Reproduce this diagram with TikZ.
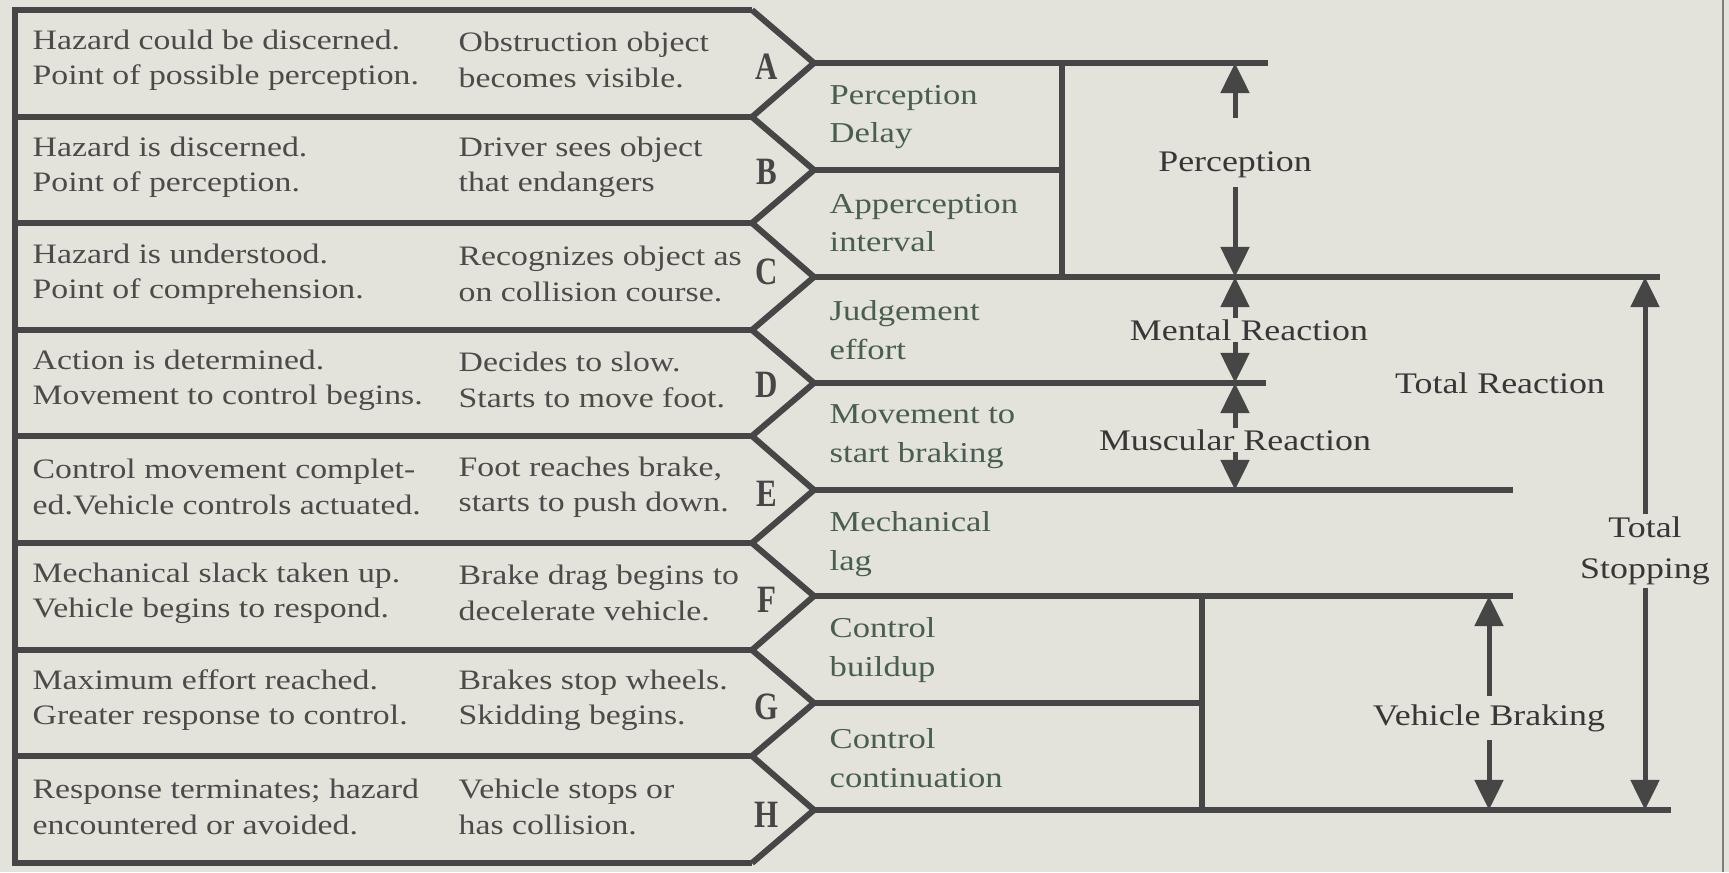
\documentclass[tikz,border=0pt]{standalone}
\usepackage{fontspec}
\setmainfont{Liberation Serif}[FakeStretch=1.2]
\newfontfamily\markfamily{Liberation Serif}[FakeStretch=0.8]
\usetikzlibrary{arrows.meta}

\definecolor{paper}{RGB}{227,226,219}
\definecolor{ink}{RGB}{70,70,70}
\definecolor{stategray}{RGB}{78,74,74}
\definecolor{phasegreen}{RGB}{72,94,80}
\definecolor{spangray}{RGB}{55,55,55}

\newcommand{\rowfont}{\fontsize{8}{10}\selectfont}
\newcommand{\phasefont}{\fontsize{8.2}{11}\selectfont}
\newcommand{\spanfont}{\fontsize{8.5}{11.5}\selectfont}
\newcommand{\markfont}{\markfamily\fontsize{11}{12}\selectfont\bfseries}

\tikzset{
  rowline/.style={line width=0.06cm, draw=ink},
  tieline/.style={line width=0.06cm, draw=ink},
  spanarrow/.style={line width=0.05cm, draw=ink, -{Triangle[width=0.28cm,length=0.3cm]}},
  statetext/.style={anchor=west, align=left, inner sep=0pt, text=stategray, font=\rowfont},
  phasetext/.style={anchor=west, align=left, inner sep=0pt, text=phasegreen, font=\phasefont},
  spantext/.style={align=center, inner sep=0.08cm, text=spangray, font=\spanfont},
  marktext/.style={inner sep=0pt, text=ink, font=\markfont}
}

\begin{document}
\begin{tikzpicture}[x=0.01cm, y=-0.01cm]
	\fill[paper] (0,0) rectangle (1729,872);
	\useasboundingbox (0,0) rectangle (1729,872);
	\draw[ink!70, line width=0.02cm] (1723,0) -- (1723,872);

	% event points
	\coordinate (tipA) at (814,63);
	\coordinate (tipB) at (814,170);
	\coordinate (tipC) at (814,277);
	\coordinate (tipD) at (814,383);
	\coordinate (tipE) at (814,490);
	\coordinate (tipF) at (814,596);
	\coordinate (tipG) at (814,703);
	\coordinate (tipH) at (814,810);

	% row boxes
	\draw[rowline] (752,10) -- (15,10) -- (15,863) -- (752,863);
	\draw[rowline] (15,117) -- (752,117);
	\draw[rowline] (15,223) -- (752,223);
	\draw[rowline] (15,330) -- (752,330);
	\draw[rowline] (15,436) -- (752,436);
	\draw[rowline] (15,543) -- (752,543);
	\draw[rowline] (15,650) -- (752,650);
	\draw[rowline] (15,756) -- (752,756);
	\draw[rowline] (752,10) -- (tipA) -- (752,117) -- (tipB) -- (752,223) -- (tipC) -- (752,330) -- (tipD) -- (752,436) -- (tipE) -- (752,543) -- (tipF) -- (752,650) -- (tipG) -- (752,756) -- (tipH) -- (752,863);

	\node[statetext] (stateA) at (32,60) {Hazard could be discerned.\\Point of possible perception.};
	\node[statetext] (eventA) at (458,60) {Obstruction object\\becomes visible.};
	\node[statetext] (stateB) at (32,167) {Hazard is discerned.\\Point of perception.};
	\node[statetext] (eventB) at (458,167) {Driver sees object\\that endangers};
	\node[statetext] (stateC) at (32,274) {Hazard is understood.\\Point of comprehension.};
	\node[statetext] (eventC) at (458,274) {Recognizes object as\\on collision course.};
	\node[statetext] (stateD) at (32,380) {Action is determined.\\Movement to control begins.};
	\node[statetext] (eventD) at (458,380) {Decides to slow.\\Starts to move foot.};
	\node[statetext] (stateE) at (32,487) {Control movement complet-\\ed.Vehicle controls actuated.};
	\node[statetext] (eventE) at (458,487) {Foot reaches brake,\\starts to push down.};
	\node[statetext] (stateF) at (32,593) {Mechanical slack taken up.\\Vehicle begins to respond.};
	\node[statetext] (eventF) at (458,593) {Brake drag begins to\\decelerate vehicle.};
	\node[statetext] (stateG) at (32,700) {Maximum effort reached.\\Greater response to control.};
	\node[statetext] (eventG) at (458,700) {Brakes stop wheels.\\Skidding begins.};
	\node[statetext] (stateH) at (32,807) {Response terminates; hazard\\encountered or avoided.};
	\node[statetext] (eventH) at (458,807) {Vehicle stops or\\has collision.};

	\node[marktext] (markA) at (767,67) {A};
	\node[marktext] (markB) at (767,172) {B};
	\node[marktext] (markC) at (767,272) {C};
	\node[marktext] (markD) at (767,385) {D};
	\node[marktext] (markE) at (767,494) {E};
	\node[marktext] (markF) at (767,600) {F};
	\node[marktext] (markG) at (767,707) {G};
	\node[marktext] (markH) at (767,815) {H};

	% time lines
	\draw[tieline] (tipA) -- (1268,63);
	\draw[tieline] (tipB) -- (1062,170);
	\draw[tieline] (1062,63) -- (1062,277);
	\draw[tieline] (tipC) -- (1660,277);
	\draw[tieline] (tipD) -- (1266,383);
	\draw[tieline] (tipE) -- (1513,490);
	\draw[tieline] (tipF) -- (1513,596);
	\draw[tieline] (tipG) -- (1202,703);
	\draw[tieline] (1202,596) -- (1202,810);
	\draw[tieline] (tipH) -- (1671,810);

	\node[phasetext] (delay) at (829,117) {Perception\\Delay};
	\node[phasetext] (apperc) at (829,223) {Apperception\\interval};
	\node[phasetext] (judge) at (829,330) {Judgement\\effort};
	\node[phasetext] (move) at (829,437) {Movement to\\start braking};
	\node[phasetext] (mech) at (829,544) {Mechanical\\lag};
	\node[phasetext] (build) at (829,650) {Control\\buildup};
	\node[phasetext] (cont) at (829,758) {Control\\continuation};

	% spans
	\node[spantext] (perc) at (1235,165) {Perception};
	\node[spantext, inner sep=0.01cm] (mental) at (1249,330) {Mental Reaction};
	\node[spantext, inner sep=0.01cm] (muscle) at (1235,440) {Muscular Reaction};
	\node[spantext] (totreact) at (1500,383) {Total Reaction};
	\node[spantext, inner sep=0.02cm] (totstop) at (1645,551) {Total\\Stopping};
	\node[spantext] (braking) at (1489,718) {Vehicle Braking};

	\draw[spanarrow, shorten <=0.25cm] (perc.north) -- (perc |- tipA);
	\draw[spanarrow] (perc.south) -- (perc |- tipC);
	\draw[spanarrow] (perc |- mental.north) -- (perc |- tipC);
	\draw[spanarrow] (perc |- mental.south) -- (perc |- tipD);
	\draw[spanarrow] (muscle.north) -- (muscle |- tipD);
	\draw[spanarrow] (muscle.south) -- (muscle |- tipE);
	\draw[spanarrow] (totstop.north) -- (totstop |- tipC);
	\draw[spanarrow] (totstop.south) -- (totstop |- tipH);
	\draw[spanarrow] (braking.north) -- (braking |- tipF);
	\draw[spanarrow] (braking.south) -- (braking |- tipH);
\end{tikzpicture}
\end{document}
